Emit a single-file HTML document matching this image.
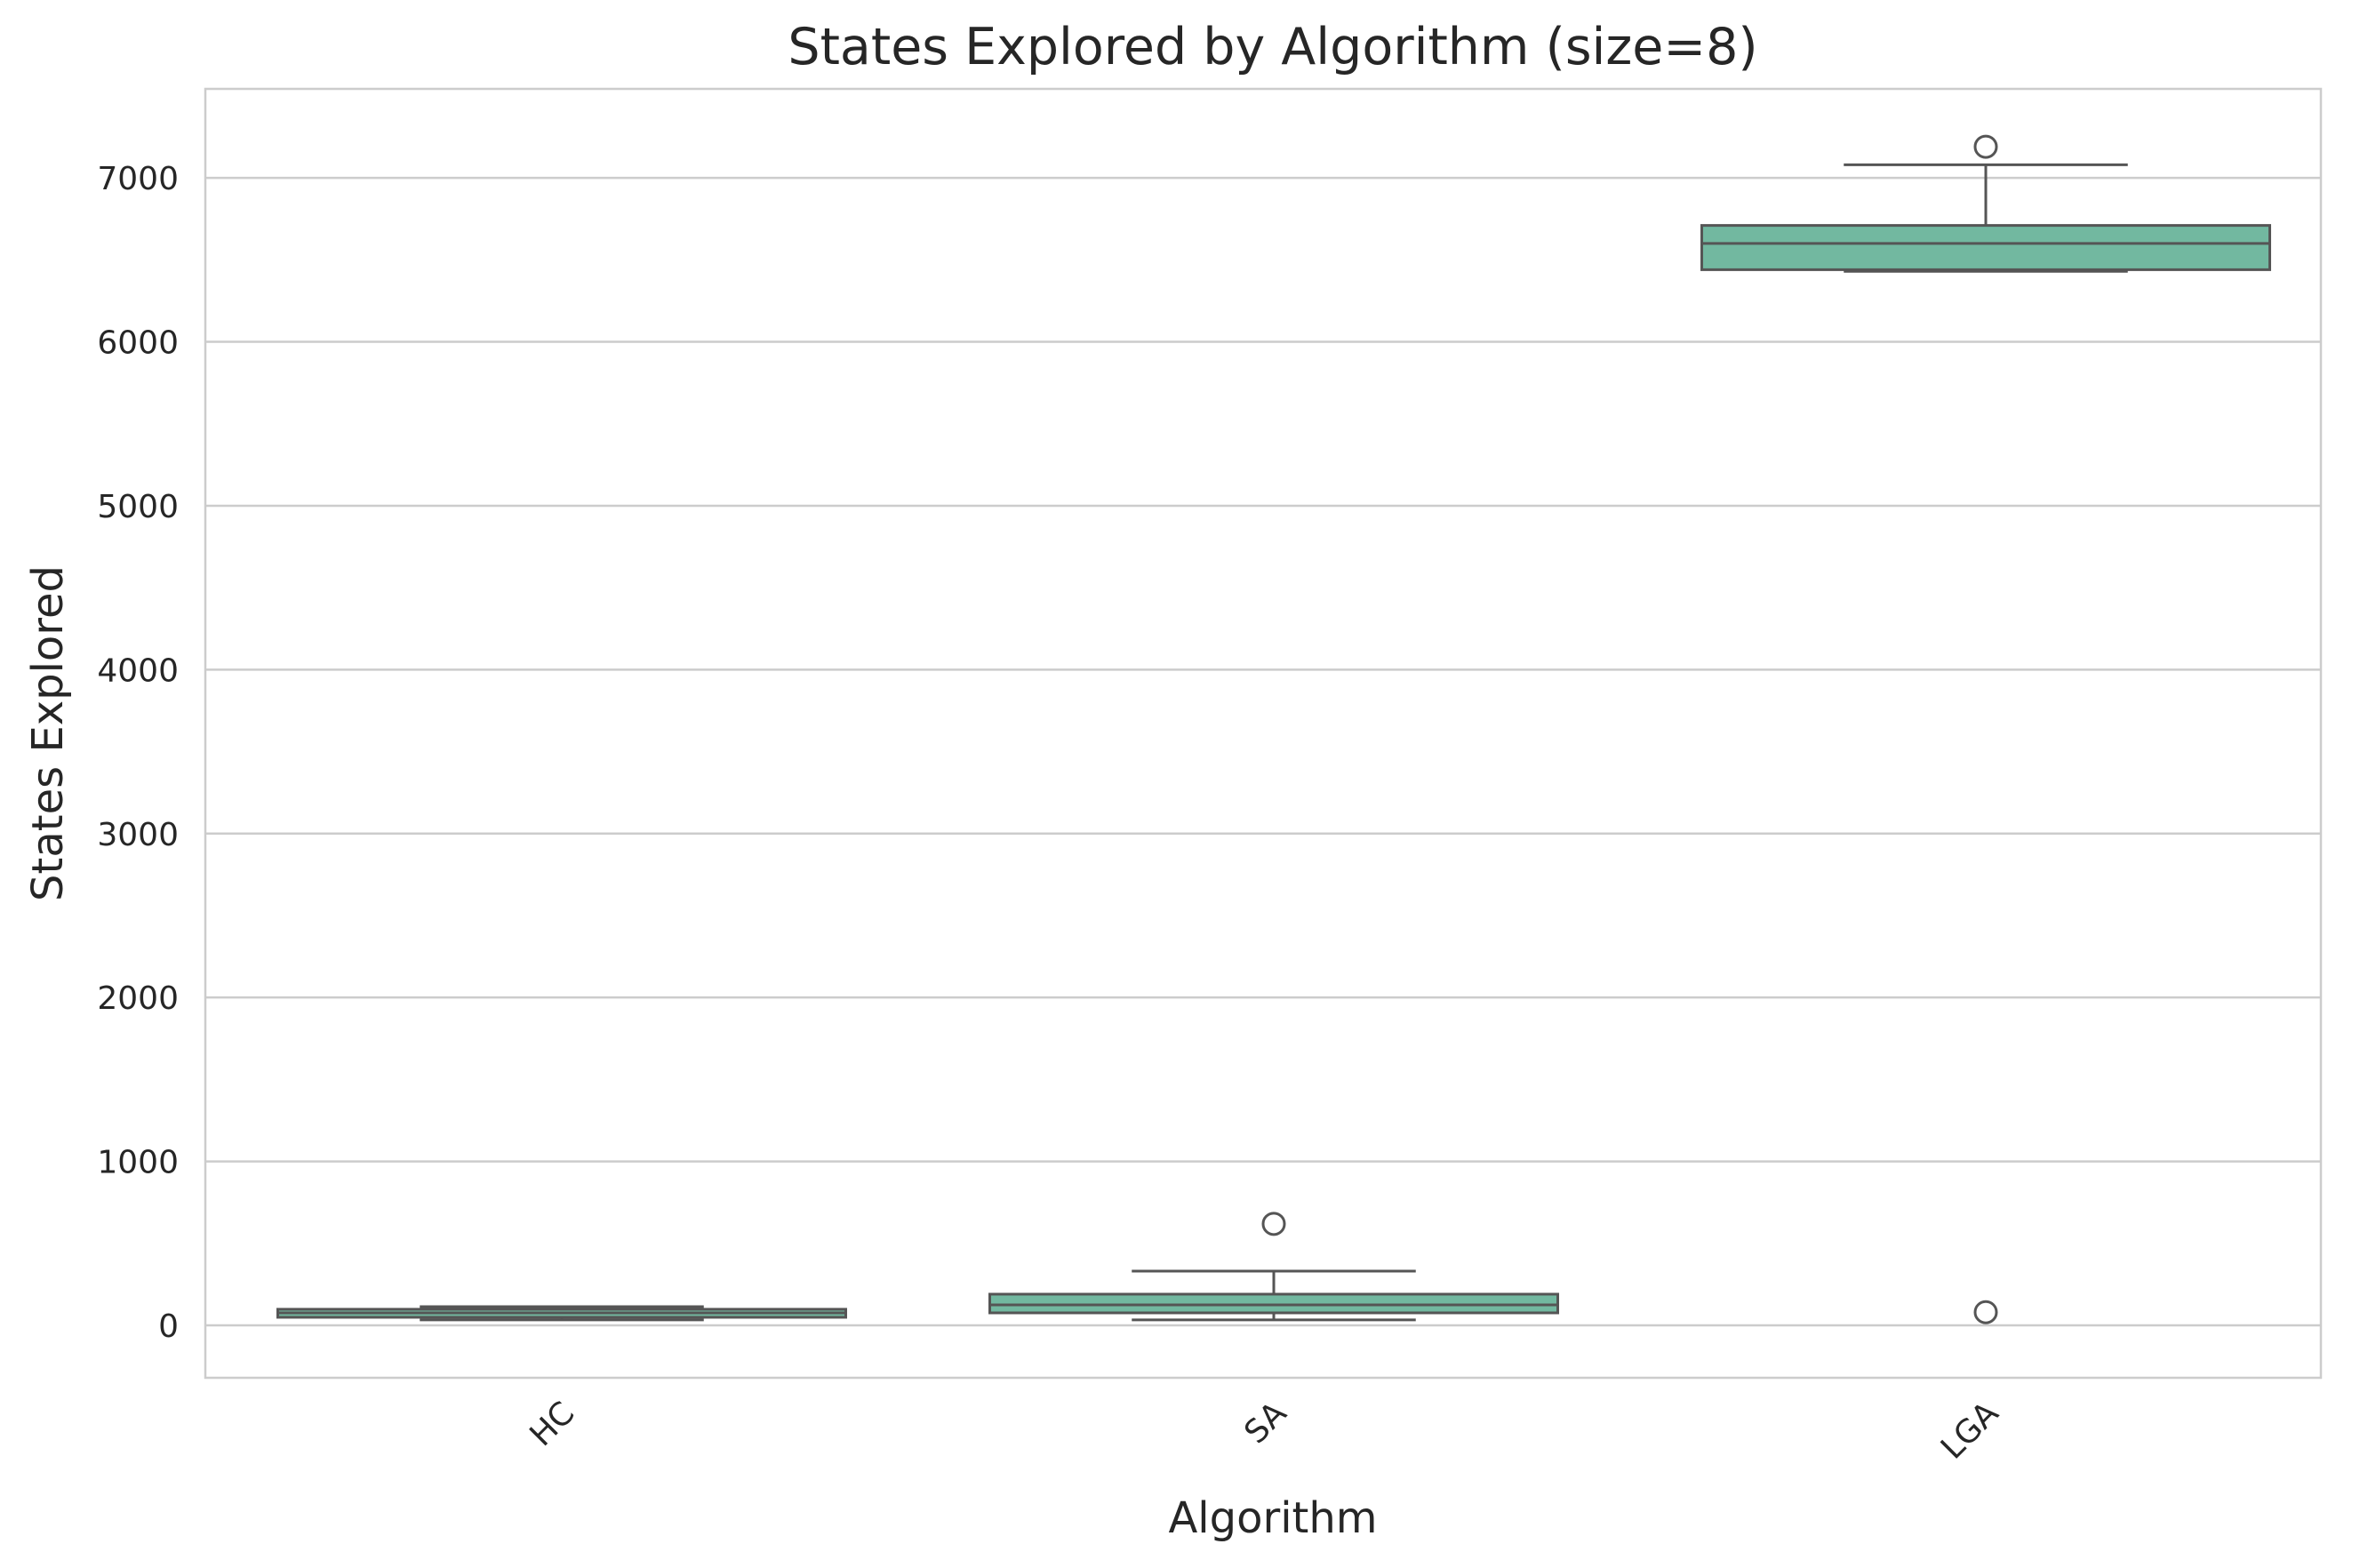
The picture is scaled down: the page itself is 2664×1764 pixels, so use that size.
<!DOCTYPE html>
<html><head><meta charset="utf-8"><style>
body{margin:0;background:#fff;}
svg{display:block;font-family:"DejaVu Sans","Liberation Sans",sans-serif;}
</style></head><body>
<svg id="chart" width="2664" height="1764" viewBox="0 0 2664 1764">
<rect x="0" y="0" width="2664" height="1764" fill="#fff"/>
<g id="grid"></g>
<g id="marks"></g>
<rect x="231" y="100" width="2380" height="1450" fill="none" stroke="#cccccc" stroke-width="2.5"/>
<g id="labels"></g>
<text x="1432" y="72" font-size="57" fill="#262626" text-anchor="middle">States Explored by Algorithm (size=8)</text>
<text x="1432" y="1724" font-size="48" fill="#262626" text-anchor="middle">Algorithm</text>
<text transform="translate(70,825) rotate(-90)" font-size="48" fill="#262626" text-anchor="middle">States Explored</text>
</svg>
<script>
const categories = ["HC","SA","LGA"];
const whisLo = [33, 33, 6430];
const q1s = [49, 76, 6440];
const medians = [76, 125, 6600];
const q3s = [98, 190, 6710];
const whisHi = [114, 331, 7080];
const outliers = [[], [619], [7190, 80]];
const yTicks = [0,1000,2000,3000,4000,5000,6000,7000];

const L=231,R=2611,T=100,B=1550;
const yMin=-320,yMax=7543;
function y(v){return B-(v-yMin)/(yMax-yMin)*(B-T);}
const x0=632,step=801;
function xc(i){return x0+i*step;}
const bw=639;
const NS="http://www.w3.org/2000/svg";
function mk(tag,attrs,parent){const e=document.createElementNS(NS,tag);for(const k in attrs)e.setAttribute(k,attrs[k]);parent.appendChild(e);return e;}
const grid=document.getElementById('grid'),marks=document.getElementById('marks'),labels=document.getElementById('labels');
yTicks.forEach(t=>{
  const l=mk('line',{x1:L,x2:R,y1:y(t),y2:y(t),stroke:'#cccccc','stroke-width':2.5},grid);
  
  
  const tx=mk('text',{x:L-30,y:y(t)+13,'font-size':36,fill:'#262626','text-anchor':'end'},labels);
  tx.textContent=t;
  
  
});
const st='#555555';
categories.forEach((c,i)=>{
  const cx=xc(i);
  const g=mk('g',{},marks);
  
  
  mk('line',{x1:cx,x2:cx,y1:y(whisHi[i]),y2:y(q3s[i]),stroke:st,'stroke-width':3},g);
  mk('line',{x1:cx,x2:cx,y1:y(q1s[i]),y2:y(whisLo[i]),stroke:st,'stroke-width':3},g);
  mk('line',{x1:cx-bw/4,x2:cx+bw/4,y1:y(whisHi[i]),y2:y(whisHi[i]),stroke:st,'stroke-width':3},g);
  mk('line',{x1:cx-bw/4,x2:cx+bw/4,y1:y(whisLo[i]),y2:y(whisLo[i]),stroke:st,'stroke-width':3},g);
  mk('rect',{x:cx-bw/2,y:y(q3s[i]),width:bw,height:Math.max(1,y(q1s[i])-y(q3s[i])),fill:'#72b8a0',stroke:st,'stroke-width':3},g);
  mk('line',{x1:cx-bw/2,x2:cx+bw/2,y1:y(medians[i]),y2:y(medians[i]),stroke:st,'stroke-width':3},g);
  outliers[i].forEach(v=>{
    const o=mk('circle',{cx:cx,cy:y(v),r:12,fill:'none',stroke:st,'stroke-width':3},marks);
    
    
  });
  const tx=mk('text',{transform:`translate(${cx+16},${B+42}) rotate(-45)`,'font-size':36,fill:'#262626','text-anchor':'end'},labels);
  tx.textContent=c;
  
  
});
</script>
</body></html>
